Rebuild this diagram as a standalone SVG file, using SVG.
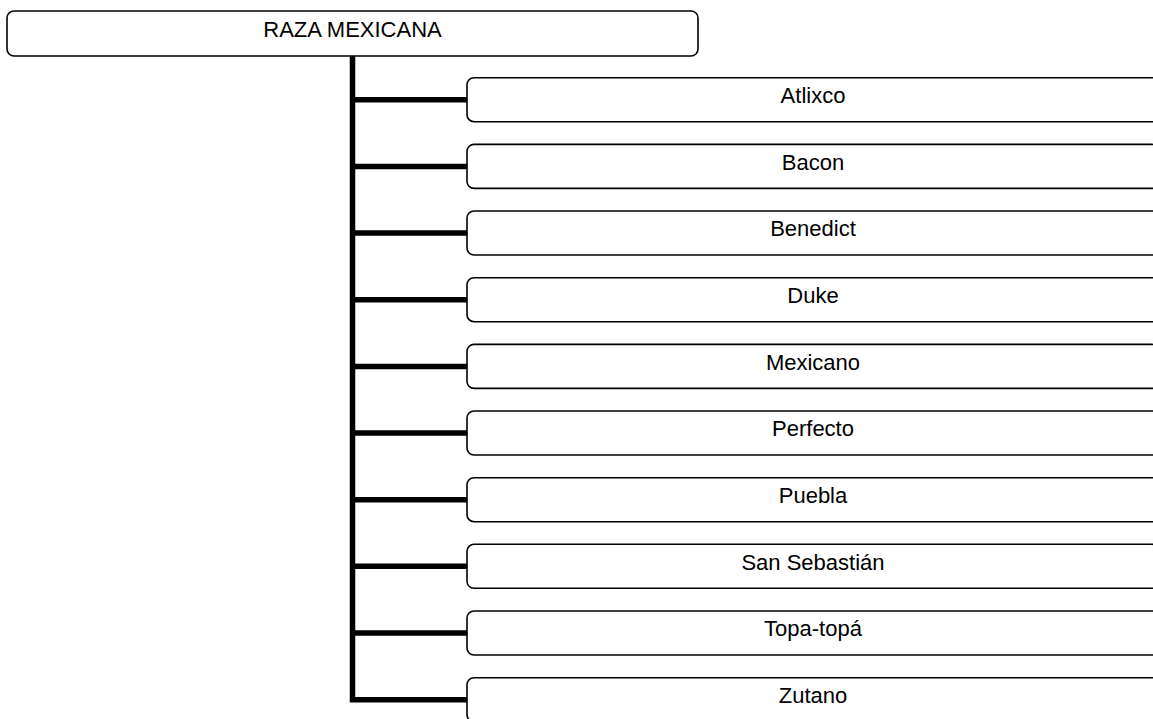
<svg xmlns="http://www.w3.org/2000/svg" width="1153" height="719" viewBox="0 0 1153 719">
<style>
.box{fill:#fff;stroke:#000;stroke-width:1.6}
.lbl{font-family:"Liberation Sans",Arial,sans-serif;font-size:22px;fill:#000;text-anchor:middle}
.conn{fill:none;stroke:#000;stroke-width:5.5}
</style>
<rect width="1153" height="719" fill="#fff"/>
<g id="connectors">
<path class="conn" d="M352.5,56 V699.7 H467"/>
<path class="conn" d="M352.5,99.7 H467 M352.5,166.4 H467 M352.5,233 H467 M352.5,299.7 H467 M352.5,366.4 H467 M352.5,433 H467 M352.5,499.7 H467 M352.5,566.3 H467 M352.5,633 H467"/>
</g>
<g id="root"><rect class="box" x="7" y="11" width="691" height="45" rx="7"/><text class="lbl" x="352.5" y="36.7">RAZA MEXICANA</text></g>
<g id="n1"><rect class="box" x="467" y="77.7" width="692" height="44" rx="7"/><text class="lbl" x="813" y="102.9">Atlixco</text></g>
<g id="n2"><rect class="box" x="467" y="144.4" width="692" height="44" rx="7"/><text class="lbl" x="813" y="169.6">Bacon</text></g>
<g id="n3"><rect class="box" x="467" y="211" width="692" height="44" rx="7"/><text class="lbl" x="813" y="236.2">Benedict</text></g>
<g id="n4"><rect class="box" x="467" y="277.7" width="692" height="44" rx="7"/><text class="lbl" x="813" y="302.9">Duke</text></g>
<g id="n5"><rect class="box" x="467" y="344.4" width="692" height="44" rx="7"/><text class="lbl" x="813" y="369.6">Mexicano</text></g>
<g id="n6"><rect class="box" x="467" y="411" width="692" height="44" rx="7"/><text class="lbl" x="813" y="436.2">Perfecto</text></g>
<g id="n7"><rect class="box" x="467" y="477.7" width="692" height="44" rx="7"/><text class="lbl" x="813" y="502.9">Puebla</text></g>
<g id="n8"><rect class="box" x="467" y="544.3" width="692" height="44" rx="7"/><text class="lbl" x="813" y="569.5">San Sebastián</text></g>
<g id="n9"><rect class="box" x="467" y="611" width="692" height="44" rx="7"/><text class="lbl" x="813" y="636.2">Topa-topá</text></g>
<g id="n10"><rect class="box" x="467" y="677.7" width="692" height="44" rx="7"/><text class="lbl" x="813" y="702.9">Zutano</text></g>
</svg>
